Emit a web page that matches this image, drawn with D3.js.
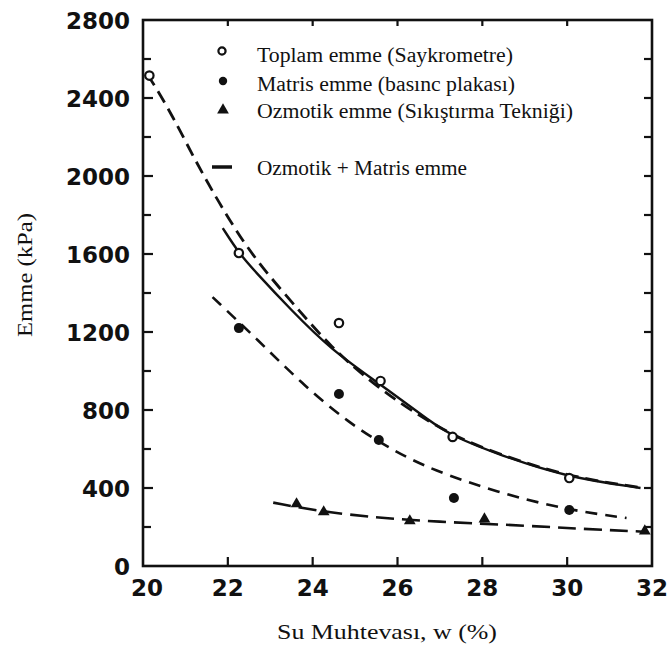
<!DOCTYPE html>
<html>
<head>
<meta charset="utf-8">
<script src="https://cdn.jsdelivr.net/npm/d3@7/dist/d3.min.js"></script>
<style>
  html, body { margin: 0; padding: 0; background: #fff; }
  svg { display: block; }
</style>
</head>
<body>
<svg id="chart" width="671" height="648"></svg>
<script>
// Water content (%) vs suction (kPa)
const xTicks = [20, 22, 24, 26, 28, 30, 32];
const yTicks = [0, 400, 800, 1200, 1600, 2000, 2400, 2800];
const yMinorTicks = [200, 600, 1000, 1400, 1800, 2200, 2600];

// Measured points
const toplamW = [20.15, 22.26, 24.62, 25.6, 27.3, 30.05];
const toplamV = [2515, 1605, 1246, 949, 662, 451];
const matrisW = [22.26, 24.62, 25.56, 27.33, 30.05];
const matrisV = [1220, 882, 646, 349, 287];
const ozmotikW = [23.62, 24.26, 26.29, 28.05, 31.83];
const ozmotikV = [313, 272, 226, 236, 174];

// Fitted curves
const toplamFitW = [21.88, 22.26, 22.61, 23.49, 24.44, 25.56, 26.82, 27.29, 28.41, 29.98, 31.73];
const toplamFitV = [1733, 1605, 1518, 1313, 1108, 938, 733, 667, 569, 456, 400];
const sumFitW = [20.1, 20.24, 20.71, 21.19, 21.66, 22.14, 22.71, 23.73, 24.44, 25.23, 26.18, 27.3, 28.41, 29.98, 31.73];
const sumFitV = [2520, 2477, 2303, 2097, 1913, 1738, 1554, 1297, 1123, 969, 815, 668, 572, 460, 402];
const matrisFitW = [21.64, 22.71, 23.73, 24.85, 25.87, 26.82, 28.41, 30.02, 31.4];
const matrisFitV = [1379, 1159, 938, 733, 595, 492, 374, 287, 246];
const ozmotikFitW = [23.07, 24.3, 26.3, 28.6, 30.2, 31.8];
const ozmotikFitV = [325, 274, 232, 212, 192, 176];

const legendLabels = [
  "Toplam emme (Saykrometre)",
  "Matris emme (basınc plakası)",
  "Ozmotik emme (Sıkıştırma Tekniği)",
  "Ozmotik + Matris emme"
];
const xLabel = "Su Muhtevası, w (%)";
const yLabel = "Emme (kPa)";

const svg = d3.select("#chart");
const plotL = 143, plotR = 652, plotT = 20, plotB = 566;

const x = d3.scaleLinear().domain([20, 32]).range([plotL, plotR]);
const y = d3.scaleLinear().domain([0, 2800]).range([plotB, plotT]);

const zip = (ws, vs) => ws.map((w, i) => [w, vs[i]]);
const line = d3.line().x(d => x(d[0])).y(d => y(d[1])).curve(d3.curveBasis);

const tickFont = "'DejaVu Sans', sans-serif";
const serif = "'Liberation Serif', 'Times New Roman', serif";

// Frame
svg.append("rect")
  .attr("x", plotL).attr("y", plotT)
  .attr("width", plotR - plotL).attr("height", plotB - plotT)
  .attr("fill", "none").attr("stroke", "#111").attr("stroke-width", 2.6);

// Y ticks (inward, both sides)
const yInner = yTicks.concat(yMinorTicks).filter(v => v > 0 && v < 2800);
svg.append("g").selectAll("line").data(yInner).join("line")
  .attr("x1", plotL).attr("x2", d => plotL + (yTicks.includes(d) ? 10 : 8))
  .attr("y1", d => y(d)).attr("y2", d => y(d))
  .attr("stroke", "#111").attr("stroke-width", 2.2);
svg.append("g").selectAll("line").data(yInner).join("line")
  .attr("x1", plotR).attr("x2", plotR - 8)
  .attr("y1", d => y(d)).attr("y2", d => y(d))
  .attr("stroke", "#111").attr("stroke-width", 2.2);

// X ticks (inward, bottom and top)
const xInner = xTicks.filter(v => v > 20 && v < 32);
svg.append("g").selectAll("line").data(xInner).join("line")
  .attr("x1", d => x(d)).attr("x2", d => x(d))
  .attr("y1", plotB).attr("y2", plotB - 9)
  .attr("stroke", "#111").attr("stroke-width", 2.2);
svg.append("g").selectAll("line").data(xInner).join("line")
  .attr("x1", d => x(d)).attr("x2", d => x(d))
  .attr("y1", plotT).attr("y2", plotT + 6)
  .attr("stroke", "#111").attr("stroke-width", 2.2);

// Tick labels
svg.append("g").selectAll("text").data(yTicks).join("text")
  .attr("x", plotL - 13).attr("y", d => y(d) + 8.5)
  .attr("text-anchor", "end")
  .attr("font-family", tickFont).attr("font-weight", "bold").attr("font-size", 23)
  .attr("fill", "#111")
  .text(d => d);
svg.append("g").selectAll("text").data(xTicks).join("text")
  .attr("x", d => x(d) + (d === 20 ? 4 : 0)).attr("y", 596)
  .attr("text-anchor", "middle")
  .attr("font-family", tickFont).attr("font-weight", "bold").attr("font-size", 23)
  .attr("fill", "#111")
  .text(d => d);

// Axis titles
svg.append("text")
  .attr("x", 387).attr("y", 639)
  .attr("text-anchor", "middle")
  .attr("font-family", serif).attr("font-size", 21)
  .attr("textLength", 220).attr("lengthAdjust", "spacingAndGlyphs")
  .attr("fill", "#111")
  .text(xLabel);
svg.append("text")
  .attr("transform", "translate(32,275) rotate(-90)")
  .attr("text-anchor", "middle")
  .attr("font-family", serif).attr("font-size", 21)
  .attr("textLength", 124).attr("lengthAdjust", "spacingAndGlyphs")
  .attr("fill", "#111")
  .text(yLabel);

// Curves
svg.append("path").datum(zip(toplamFitW, toplamFitV))
  .attr("d", line).attr("fill", "none").attr("stroke", "#111").attr("stroke-width", 2.4);
svg.append("path").datum(zip(sumFitW, sumFitV))
  .attr("d", line).attr("fill", "none").attr("stroke", "#111").attr("stroke-width", 2.8)
  .attr("stroke-dasharray", "13,7");
svg.append("path").datum(zip(matrisFitW, matrisFitV))
  .attr("d", line).attr("fill", "none").attr("stroke", "#111").attr("stroke-width", 2.6)
  .attr("stroke-dasharray", "12,8");
svg.append("path").datum(zip(ozmotikFitW, ozmotikFitV))
  .attr("d", line).attr("fill", "none").attr("stroke", "#111").attr("stroke-width", 2.6)
  .attr("stroke-dasharray", "18,8");

// Points
const tri = d3.symbol().type(d3.symbolTriangle).size(60);
svg.append("g").selectAll("circle").data(zip(toplamW, toplamV)).join("circle")
  .attr("cx", d => x(d[0])).attr("cy", d => y(d[1])).attr("r", 4.2)
  .attr("fill", "#fff").attr("stroke", "#111").attr("stroke-width", 2.2);
svg.append("g").selectAll("circle").data(zip(matrisW, matrisV)).join("circle")
  .attr("cx", d => x(d[0])).attr("cy", d => y(d[1])).attr("r", 5)
  .attr("fill", "#111");
svg.append("g").selectAll("path").data(zip(ozmotikW, ozmotikV)).join("path")
  .attr("d", tri)
  .attr("transform", d => `translate(${x(d[0])},${y(d[1]) - 1})`)
  .attr("fill", "#111");

// Legend
const legendBase = [62, 91, 118, 175];
const legendWidths = [256, 258, 316, 210];
const lg = svg.append("g");
lg.selectAll("text").data(legendLabels).join("text")
  .attr("x", 257).attr("y", (d, i) => legendBase[i])
  .attr("font-family", serif).attr("font-size", 20)
  .attr("textLength", (d, i) => legendWidths[i]).attr("lengthAdjust", "spacingAndGlyphs")
  .attr("fill", "#111")
  .text(d => d);
lg.append("circle").attr("cx", 222).attr("cy", 51).attr("r", 3.6)
  .attr("fill", "#fff").attr("stroke", "#111").attr("stroke-width", 2.2);
lg.append("circle").attr("cx", 223).attr("cy", 81).attr("r", 4.2).attr("fill", "#111");
lg.append("path").attr("d", tri).attr("transform", "translate(223,110)").attr("fill", "#111");
lg.append("line").attr("x1", 212).attr("x2", 232).attr("y1", 167).attr("y2", 167)
  .attr("stroke", "#111").attr("stroke-width", 3.5);
</script>
</body>
</html>
